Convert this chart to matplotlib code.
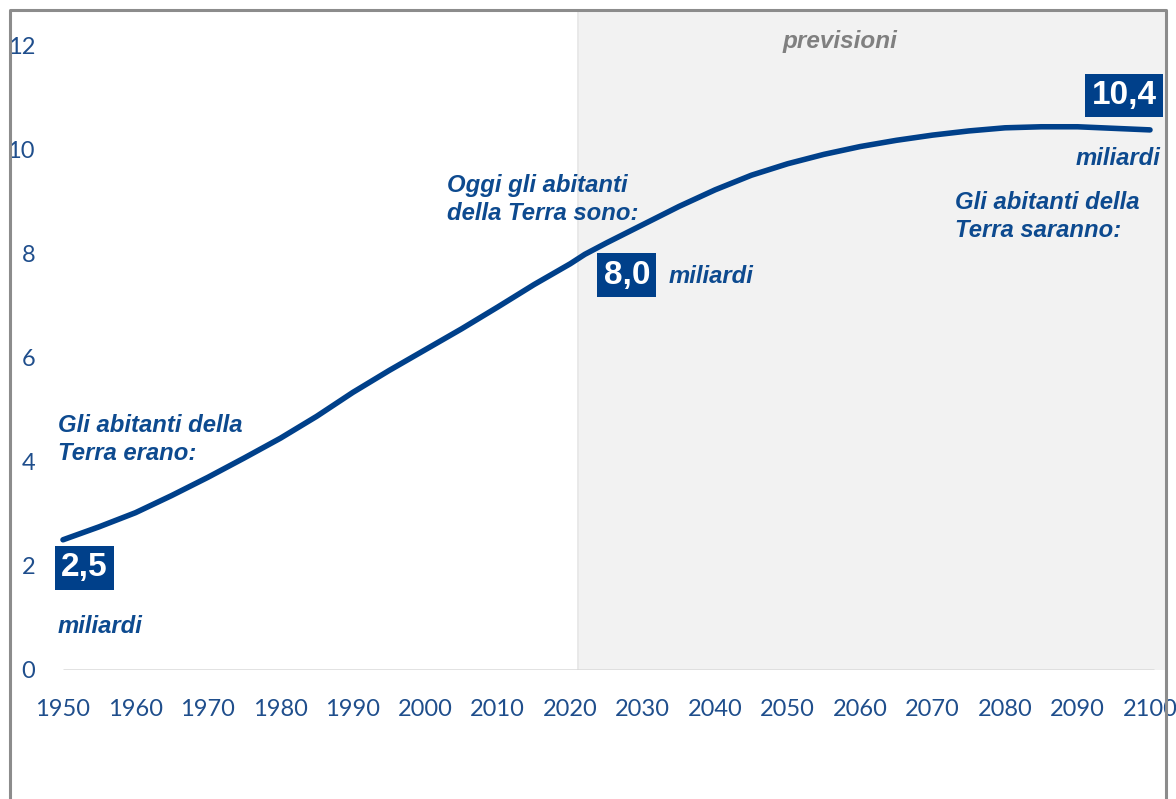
import matplotlib.pyplot as plt
from matplotlib.lines import Line2D

# popolazione mondiale (miliardi)
anni = [1950, 1955, 1960, 1965, 1970, 1975, 1980, 1985, 1990, 1995, 2000, 2005,
        2010, 2015, 2020, 2022, 2025, 2030, 2035, 2040, 2045, 2050, 2055, 2060,
        2065, 2070, 2075, 2080, 2085, 2090, 2095, 2100]
popolazione = [2.50, 2.75, 3.02, 3.35, 3.70, 4.07, 4.45, 4.87, 5.33, 5.75, 6.15, 6.55,
               6.97, 7.40, 7.80, 7.98, 8.20, 8.55, 8.90, 9.22, 9.50, 9.72, 9.90, 10.05,
               10.17, 10.27, 10.35, 10.41, 10.43, 10.43, 10.40, 10.37]
anni_tick = list(range(1950, 2101, 10))
y_tick = [0, 2, 4, 6, 8, 10, 12]
inizio_previsioni = 2021

BLU = '#00408a'
BLU_TESTO = '#0d4a8f'
W, H = 1176, 799

fig = plt.figure(figsize=(W / 100, H / 100), dpi=100)
ax = fig.add_axes([40 / W, (H - 670) / H, (1165 - 40) / W, (670 - 10) / H])

# px per anno = 1087/150
ppy = 1087 / 150
ax.set_xlim(1950 - 23 / ppy, 2100 + 15 / ppy)
ax.set_ylim(0, 12 * 660 / 625)

ax.axvspan(inizio_previsioni, 2110, color='#f2f2f2', zorder=0)
ax.axvline(inizio_previsioni, color='#e6e6e6', lw=1.2, zorder=0.5)
ax.hlines(0, 1950, 2100.5, color='#d9d9d9', lw=1.8, zorder=1)
ax.plot(anni, popolazione, color=BLU, lw=4.0, solid_capstyle='round', zorder=3)

for s in ax.spines.values():
    s.set_visible(False)
ax.set_xticks(anni_tick)
ax.set_yticks(y_tick)
ax.tick_params(length=0, labelsize=17, labelcolor='#1f4e8c')
ax.tick_params(axis='y', pad=3.6)
ax.tick_params(axis='x', pad=21)
for lab in ax.get_xticklabels() + ax.get_yticklabels():
    lab.set_family('Lato')

# testi
fnt = dict(family='Liberation Sans', weight='bold', style='italic', color=BLU_TESTO)
box = dict(boxstyle='square,pad=0.19', fc=BLU, ec='none')
num = dict(family='Liberation Sans', weight='bold', color='white', fontsize=24,
           ha='center', va='center', bbox=box, zorder=5)

ax.text(1949.3, 4.43, 'Gli abitanti della\nTerra erano:', fontsize=17.2, va='center',
        linespacing=1.28, **fnt)
ax.text(1952.97, 1.96, '2,5', **num)
ax.text(1949.3, 0.83, 'miliardi', fontsize=17.2, va='center', **fnt)

ax.text(2003.0, 9.04, 'Oggi gli abitanti\ndella Terra sono:', fontsize=17.2, va='center',
        linespacing=1.28, **fnt)
ax.text(2027.8, 7.58, '8,0', **num)
ax.text(2033.6, 7.55, 'miliardi', fontsize=17.2, va='center', **fnt)

ax.text(2057.2, 12.06, 'previsioni', fontsize=17.5, ha='center', va='center',
        family='Liberation Sans', weight='bold', style='italic', color='#808080')

ax.text(2096.4, 11.03, '10,4', **num)
ax.text(2101.4, 9.83, 'miliardi', fontsize=17.2, ha='right', va='center', **fnt)
ax.text(2073.1, 8.70, 'Gli abitanti della\nTerra saranno:', fontsize=17.2, va='center',
        linespacing=1.28, **fnt)

# cornice grigia
grigio = '#8c8c8c'
x0, x1, y0 = 9.5 / W, 1166 / W, 1 - 9.5 / H
fig.add_artist(Line2D([x0, x0, x1, x1], [0, y0, y0, 0], color=grigio, lw=2.2))

fig.savefig('out.png', dpi=100)
